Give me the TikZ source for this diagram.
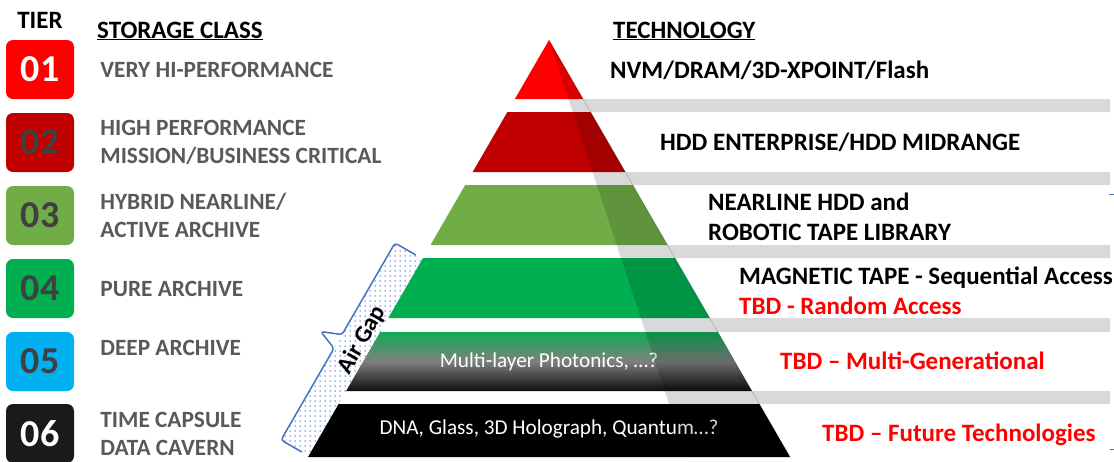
\documentclass[tikz,border=0pt]{standalone}
\usepackage{fontspec}
\setmainfont{Carlito}
\usetikzlibrary{patterns.meta,positioning}
\definecolor{tierred}{HTML}{FF0000}
\definecolor{tierdarkred}{HTML}{C00000}
\definecolor{tierolive}{HTML}{70AD47}
\definecolor{tiergreen}{HTML}{00B050}
\definecolor{tiercyan}{HTML}{00B0F0}
\definecolor{tierblack}{HTML}{1A1A1A}
\definecolor{classgray}{HTML}{595959}
\definecolor{numgray}{HTML}{404040}
\definecolor{gapblue}{HTML}{4472C4}
\pgfdeclareverticalshading{photonics}{100bp}{color(0bp)=(black); color(22bp)=(black); color(50bp)=(black!50); color(78bp)=(tiergreen); color(100bp)=(tiergreen)}

\begin{document}
\begin{tikzpicture}[x=1pt, y=-1pt, line join=round]
    \tikzstyle{tierbox}=[rectangle, rounded corners=7pt, minimum width=68pt, minimum height=59pt, inner sep=0pt, font=\fontsize{38}{38}\selectfont\bfseries]
    \tikzstyle{classtext}=[anchor=west, align=left, inner sep=0pt, text=classgray, font=\fontsize{23.3}{28}\selectfont\bfseries]
    \tikzstyle{techtext}=[anchor=west, align=left, inner sep=0pt, font=\fontsize{25}{30}\selectfont\bfseries]
    \tikzstyle{heading}=[inner sep=0pt, font=\fontsize{25}{25}\selectfont\bfseries]
    \tikzstyle{layertext}=[text=white, inner sep=0pt, font=\fontsize{21.2}{21}\selectfont]
    \tikzstyle{sideface}=[fill=black, fill opacity=0.15]
    \useasboundingbox (0,0) rectangle (1114,461);

    % Headings
    \node[heading, anchor=base] (tier-head) at (40,28) {TIER};
    \node[heading, anchor=base west] (class-head) at (97,38) {\underline{STORAGE CLASS}};
    \node[heading, anchor=base west] (tech-head) at (613,38) {\underline{TECHNOLOGY}};

    % Tier boxes
    \node[tierbox, fill=tierred, text=white] (T1) at (40,69.5) {01};
    \node[tierbox, fill=tierdarkred, text=numgray] (T2) at (40,142.5) {02};
    \node[tierbox, fill=tierolive, text=numgray] (T3) at (40,215.5) {03};
    \node[tierbox, fill=tiergreen, text=numgray] (T4) at (40,288.5) {04};
    \node[tierbox, fill=tiercyan, text=numgray] (T5) at (40,361.5) {05};
    \node[tierbox, fill=tierblack, text=white] (T6) at (40,433.5) {06};

    % Storage classes
    \node[classtext, right=26pt of T1] (C1) {VERY HI-PERFORMANCE};
    \node[classtext, right=26pt of T2] (C2) {HIGH PERFORMANCE\\MISSION/BUSINESS CRITICAL};
    \node[classtext, right=26pt of T3] (C3) {HYBRID NEARLINE/\\ACTIVE ARCHIVE};
    \node[classtext, right=26pt of T4] (C4) {PURE ARCHIVE};
    \node[classtext, right=26pt of T5, yshift=13.5pt] (C5) {DEEP ARCHIVE};
    \node[classtext, right=26pt of T6] (C6) {TIME CAPSULE\\DATA CAVERN};

    % Air gap dots
    \fill[pattern={Dots[distance=5pt, radius=0.75pt]}, pattern color=gapblue] (395,243) -- (422.7,259) -- (308.7,456) -- (281,440) -- cycle;

    % Pyramid layers
    \fill[tierred] (549,40) -- (583.1,99) -- (514.9,99) -- cycle;
    \fill[tierdarkred] (507.4,112) -- (590.6,112) -- (625.3,172) -- (472.7,172) -- cycle;
    \fill[tierolive] (465.2,185) -- (632.8,185) -- (667.5,245) -- (430.5,245) -- cycle;
    \fill[tiergreen] (423,258) -- (675,258) -- (709.7,318) -- (388.3,318) -- cycle;
    \shade[shading=photonics] (380.2,332) -- (717.8,332) -- (751.9,391) -- (346.1,391) -- cycle;
    \fill[black] (338.6,404) -- (759.4,404) -- (790,457) -- (308,457) -- cycle;

    \node[layertext] (L5-text) at (549,362) {Multi-layer Photonics, …?};
    \node[layertext] (L6-text) at (549,429) {DNA, Glass, 3D Holograph, Quantum…?};

    % Side face and shelves
    \fill[sideface] (549,40) -- (790,457) -- (686.6,457) -- cycle
        (583.1,99) -- (1110,99) -- (1110,112) -- (590.6,112) -- cycle
        (625.3,172) -- (1110,172) -- (1110,185) -- (632.8,185) -- cycle
        (667.5,245) -- (1110,245) -- (1110,258) -- (675,258) -- cycle
        (709.7,318) -- (1110,318) -- (1110,332) -- (717.8,332) -- cycle
        (751.9,391) -- (1110,391) -- (1110,404) -- (759.4,404) -- cycle;
    \draw[black, opacity=0.15, line width=1pt] (549,40) -- (790,457);

    % Air gap brace
    \draw[gapblue, line width=1.5pt, rounded corners=3pt] (415.8,255) -- (395,243) -- (342,334.6) -- (320.7,331.5) -- (334,348.4) -- (281,440) -- (301.8,452);
    \node[font=\fontsize{24}{24}\selectfont\bfseries, rotate=60, inner sep=0pt] (airgap) at (362,340) {Air Gap};

    % Technologies
    \node[techtext] (tech1) at (610,70) {NVM/DRAM/3D-XPOINT/Flash};
    \node[techtext] (tech2) at (660,142) {HDD ENTERPRISE/HDD MIDRANGE};
    \node[techtext] (tech3) at (708,216.5) {NEARLINE HDD and\\ROBOTIC TAPE LIBRARY};
    \node[techtext] (tech4) at (739,290.5) {MAGNETIC TAPE - Sequential Access\\\textcolor{tierred}{TBD - Random Access}};
    \node[techtext, text=tierred] (tech5) at (780,361) {TBD -- Multi-Generational};
    \node[techtext, text=tierred] (tech6) at (822,435) {TBD -- Future Technologies};

    % Cropped marks at the right edge
    \draw[gapblue, line width=1.5pt] (1109,194.5) -- (1114,194.5);
    \draw[gapblue, line width=1pt] (1110,449.5) -- (1114,449.5);
\end{tikzpicture}
\end{document}
